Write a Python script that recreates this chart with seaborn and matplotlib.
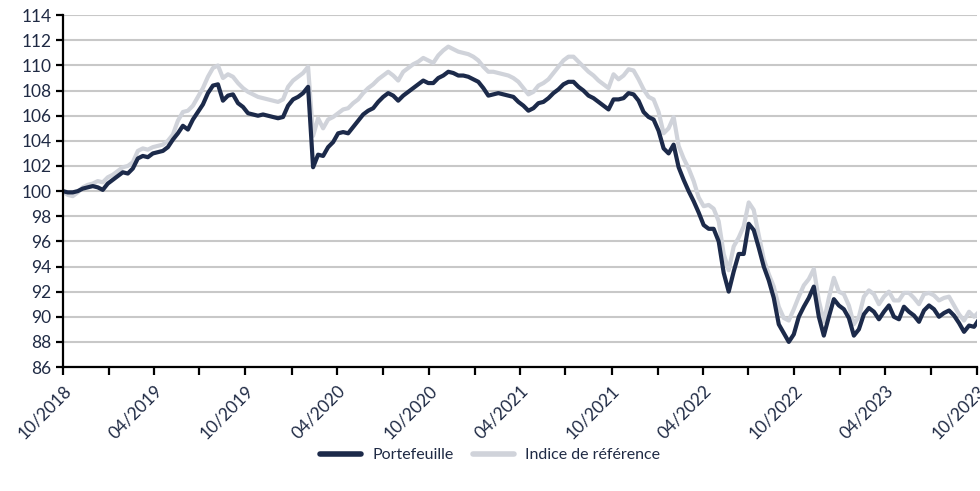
import matplotlib
matplotlib.use("Agg")
import matplotlib.pyplot as plt
import pandas as pd
import seaborn as sns

# Valeurs (base 100 au 01/10/2018, un point tous les 10 jours)
portefeuille = [
    100.0, 99.9, 99.9, 100.0, 100.2, 100.3, 100.4, 100.3, 100.1, 100.6,
    100.9, 101.2, 101.5, 101.4, 101.8, 102.6, 102.8, 102.7, 103.0, 103.1,
    103.2, 103.5, 104.1, 104.6, 105.2, 104.9, 105.7, 106.3, 106.9, 107.8,
    108.4, 108.5, 107.2, 107.6, 107.7, 107.0, 106.7, 106.2, 106.1, 106.0,
    106.1, 106.0, 105.9, 105.8, 105.9, 106.8, 107.3, 107.5, 107.8, 108.3,
    101.9, 102.9, 102.8, 103.5, 103.9, 104.6, 104.7, 104.6, 105.1, 105.6,
    106.1, 106.4, 106.6, 107.1, 107.5, 107.8, 107.6, 107.2, 107.6, 107.9,
    108.2, 108.5, 108.8, 108.6, 108.6, 109.0, 109.2, 109.5, 109.4, 109.2,
    109.2, 109.1, 108.9, 108.7, 108.2, 107.6, 107.7, 107.8, 107.7, 107.6,
    107.5, 107.1, 106.8, 106.4, 106.6, 107.0, 107.1, 107.4, 107.8, 108.1,
    108.5, 108.7, 108.7, 108.3, 108.0, 107.6, 107.4, 107.1, 106.8, 106.5,
    107.3, 107.3, 107.4, 107.8, 107.7, 107.2, 106.3, 105.9, 105.7, 104.8,
    103.4, 103.0, 103.7, 101.9, 100.9, 100.0, 99.2, 98.3, 97.3, 97.0,
    97.0, 96.0, 93.5, 92.0, 93.6, 95.0, 95.0, 97.4, 96.9, 95.5,
    94.0, 92.9, 91.5, 89.4, 88.7, 88.0, 88.6, 90.0, 90.8, 91.5,
    92.4, 90.0, 88.5, 90.0, 91.4, 90.9, 90.6, 89.9, 88.5, 89.0,
    90.2, 90.7, 90.4, 89.8, 90.4, 90.9, 90.0, 89.8, 90.8, 90.4,
    90.1, 89.6, 90.5, 90.9, 90.6, 90.0, 90.3, 90.5, 90.1, 89.5,
    88.8, 89.3, 89.2, 89.8,
]
indice = [
    100.0, 99.7, 99.6, 99.9, 100.3, 100.5, 100.6, 100.8, 100.7, 101.1,
    101.3, 101.6, 101.9, 102.0, 102.3, 103.2, 103.4, 103.3, 103.5, 103.6,
    103.7, 104.0, 104.5, 105.6, 106.3, 106.4, 106.8, 107.5, 108.2, 109.1,
    109.8, 110.0, 109.0, 109.3, 109.1, 108.6, 108.2, 107.9, 107.7, 107.5,
    107.4, 107.3, 107.2, 107.1, 107.3, 108.3, 108.8, 109.1, 109.4, 109.9,
    104.4, 105.8, 105.0, 105.7, 105.9, 106.2, 106.5, 106.6, 107.0, 107.3,
    107.8, 108.2, 108.5, 108.9, 109.2, 109.5, 109.2, 108.8, 109.5, 109.8,
    110.1, 110.3, 110.6, 110.4, 110.2, 110.8, 111.2, 111.5, 111.3, 111.1,
    111.0, 110.9, 110.7, 110.4, 109.9, 109.5, 109.5, 109.4, 109.3, 109.2,
    109.0, 108.7, 108.2, 107.7, 107.9, 108.4, 108.6, 108.9, 109.4, 109.9,
    110.4, 110.7, 110.7, 110.3, 109.9, 109.5, 109.2, 108.8, 108.5, 108.2,
    109.3, 108.9, 109.2, 109.7, 109.6, 108.9, 108.1, 107.5, 107.3, 106.3,
    104.6, 105.0, 105.9, 103.6, 102.6, 101.8, 100.8, 99.5, 98.8, 98.9,
    98.6, 97.6, 95.0, 93.7, 95.6, 96.3, 97.2, 99.1, 98.5, 96.5,
    94.6, 93.4, 92.4, 90.8, 89.9, 89.7, 90.6, 91.6, 92.5, 93.0,
    93.8, 91.3, 89.6, 91.5, 93.1, 92.0, 91.8, 90.9, 89.4, 90.0,
    91.6, 92.1, 91.8, 91.0, 91.6, 92.0, 91.3, 91.3, 91.9, 91.9,
    91.5, 91.0, 91.8, 91.9, 91.7, 91.3, 91.5, 91.6, 90.9, 90.2,
    89.7, 90.4, 90.0, 90.4,
]
dates = pd.date_range("2018-10-01", periods=len(portefeuille), freq="10D")

series_noms = ["Portefeuille", "Indice de référence"]
couleurs = ["#1c2a4a", "#d0d3da"]
y_ticks = list(range(86, 115, 2))
x_labels = ["10/2018", "04/2019", "10/2019", "04/2020", "10/2020", "04/2021",
            "10/2021", "04/2022", "10/2022", "04/2023", "10/2023"]

df = pd.concat([
    pd.DataFrame({"date": dates, "valeur": portefeuille, "serie": series_noms[0]}),
    pd.DataFrame({"date": dates, "valeur": indice, "serie": series_noms[1]}),
])

sns.set_style("white")
plt.rcParams["font.family"] = ["Lato", "DejaVu Sans"]
texte = "#1f2a44"

fig, ax = plt.subplots(figsize=(9.8, 4.91), dpi=100)
fig.subplots_adjust(left=0.064, right=0.997, top=0.969, bottom=0.2525)

# indice dessiné en premier, portefeuille par-dessus
sns.lineplot(data=df, x="date", y="valeur", hue="serie", hue_order=series_noms[::-1],
             palette=couleurs[::-1], linewidth=3, ax=ax, legend=False)

ax.set_ylim(86, 114)
ax.set_yticks(y_ticks)
ax.set_xlim(pd.Timestamp("2018-10-01"), pd.Timestamp("2023-10-01"))
trimestres = pd.date_range("2018-10-01", "2023-10-01", freq="3MS")
ax.set_xticks(trimestres)
lab = []
for d in trimestres:
    s = d.strftime("%m/%Y")
    lab.append(s if s in x_labels else "")
ax.set_xticklabels(lab, rotation=45, ha="right", rotation_mode="anchor", va="top")

ax.grid(axis="y", color="#c8c8c8", linewidth=1.5)
ax.set_axisbelow(True)
for side in ["top", "right"]:
    ax.spines[side].set_visible(False)
for side in ["left", "bottom"]:
    ax.spines[side].set_color("black")
    ax.spines[side].set_linewidth(1.6)
ax.tick_params(axis="y", left=True, length=5, width=1.6, color="black",
               labelsize=12.5, labelcolor=texte, pad=3)
ax.tick_params(axis="x", bottom=True, length=6, width=1.6, color="black",
               labelsize=12.5, labelcolor=texte, pad=5)
ax.set_xlabel("")
ax.set_ylabel("")

handles = [plt.Line2D([], [], color=c, linewidth=4) for c in couleurs]
fig.legend(handles, series_noms, loc="center", bbox_to_anchor=(0.5, 0.073), ncol=2,
           frameon=False, fontsize=11.5, labelcolor=texte, handlelength=2.6,
           columnspacing=1.2, handletextpad=0.7)

fig.savefig("out.png", dpi=100)
